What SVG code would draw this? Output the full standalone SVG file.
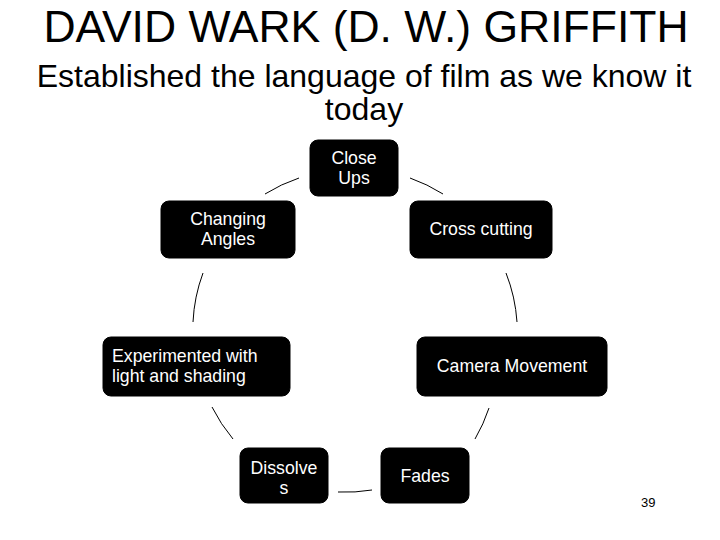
<svg xmlns="http://www.w3.org/2000/svg" width="720" height="540" viewBox="0 0 720 540">
<style>
.box{fill:#000;stroke:#000}
.t{font-family:"Liberation Sans",Arial,sans-serif;font-size:17.7px;fill:#fff}
.c{text-anchor:middle}
.conn path{fill:none;stroke:#000;stroke-width:1}
.h{font-family:"Liberation Sans",Arial,sans-serif;fill:#000;text-anchor:middle}
</style>
<rect width="720" height="540" fill="#fff"/>
<text class="h" x="366" y="42" font-size="44.5">DAVID WARK (D. W.) GRIFFITH</text>
<text class="h" x="364" y="87" font-size="32">Established the language of film as we know it</text>
<text class="h" x="364" y="120" font-size="32">today</text>
<g class="conn" id="connectors">
<path d="M265 194 A163 163 0 0 1 299 178"/>
<path d="M410 178 A163 163 0 0 1 443 194"/>
<path d="M506 273 A163 163 0 0 1 517 322"/>
<path d="M489 408 A163 163 0 0 1 475 439"/>
<path d="M372 490 A163 163 0 0 1 338 492"/>
<path d="M233 439 A163 163 0 0 1 212 407"/>
<path d="M193 322 A163 163 0 0 1 203 273"/>
</g>
<g id="close-ups">
<rect class="box" x="310" y="140" width="88" height="56" rx="8"/>
<text class="t c" x="354" y="164">Close</text>
<text class="t c" x="354" y="184">Ups</text>
</g>
<g id="changing-angles">
<rect class="box" x="161" y="201" width="134" height="57" rx="8"/>
<text class="t c" x="228" y="225">Changing</text>
<text class="t c" x="228" y="245">Angles</text>
</g>
<g id="cross-cutting">
<rect class="box" x="410" y="201" width="142" height="57" rx="8"/>
<text class="t c" x="481" y="235">Cross cutting</text>
</g>
<g id="experimented">
<rect class="box" x="103" y="337" width="187" height="59" rx="8"/>
<text class="t" x="112" y="362">Experimented with</text>
<text class="t" x="112" y="382">light and shading</text>
</g>
<g id="camera-movement">
<rect class="box" x="417" y="337" width="190" height="59" rx="8"/>
<text class="t c" x="512" y="372">Camera Movement</text>
</g>
<g id="dissolves">
<rect class="box" x="240" y="448" width="88" height="55" rx="8"/>
<text class="t c" x="284" y="474">Dissolve</text>
<text class="t c" x="284" y="494">s</text>
</g>
<g id="fades">
<rect class="box" x="381" y="448" width="88" height="55" rx="8"/>
<text class="t c" x="425" y="482">Fades</text>
</g>
<text x="641" y="507" font-family="Liberation Sans Narrow,Liberation Sans,sans-serif" font-size="13" fill="#000">39</text>
</svg>
